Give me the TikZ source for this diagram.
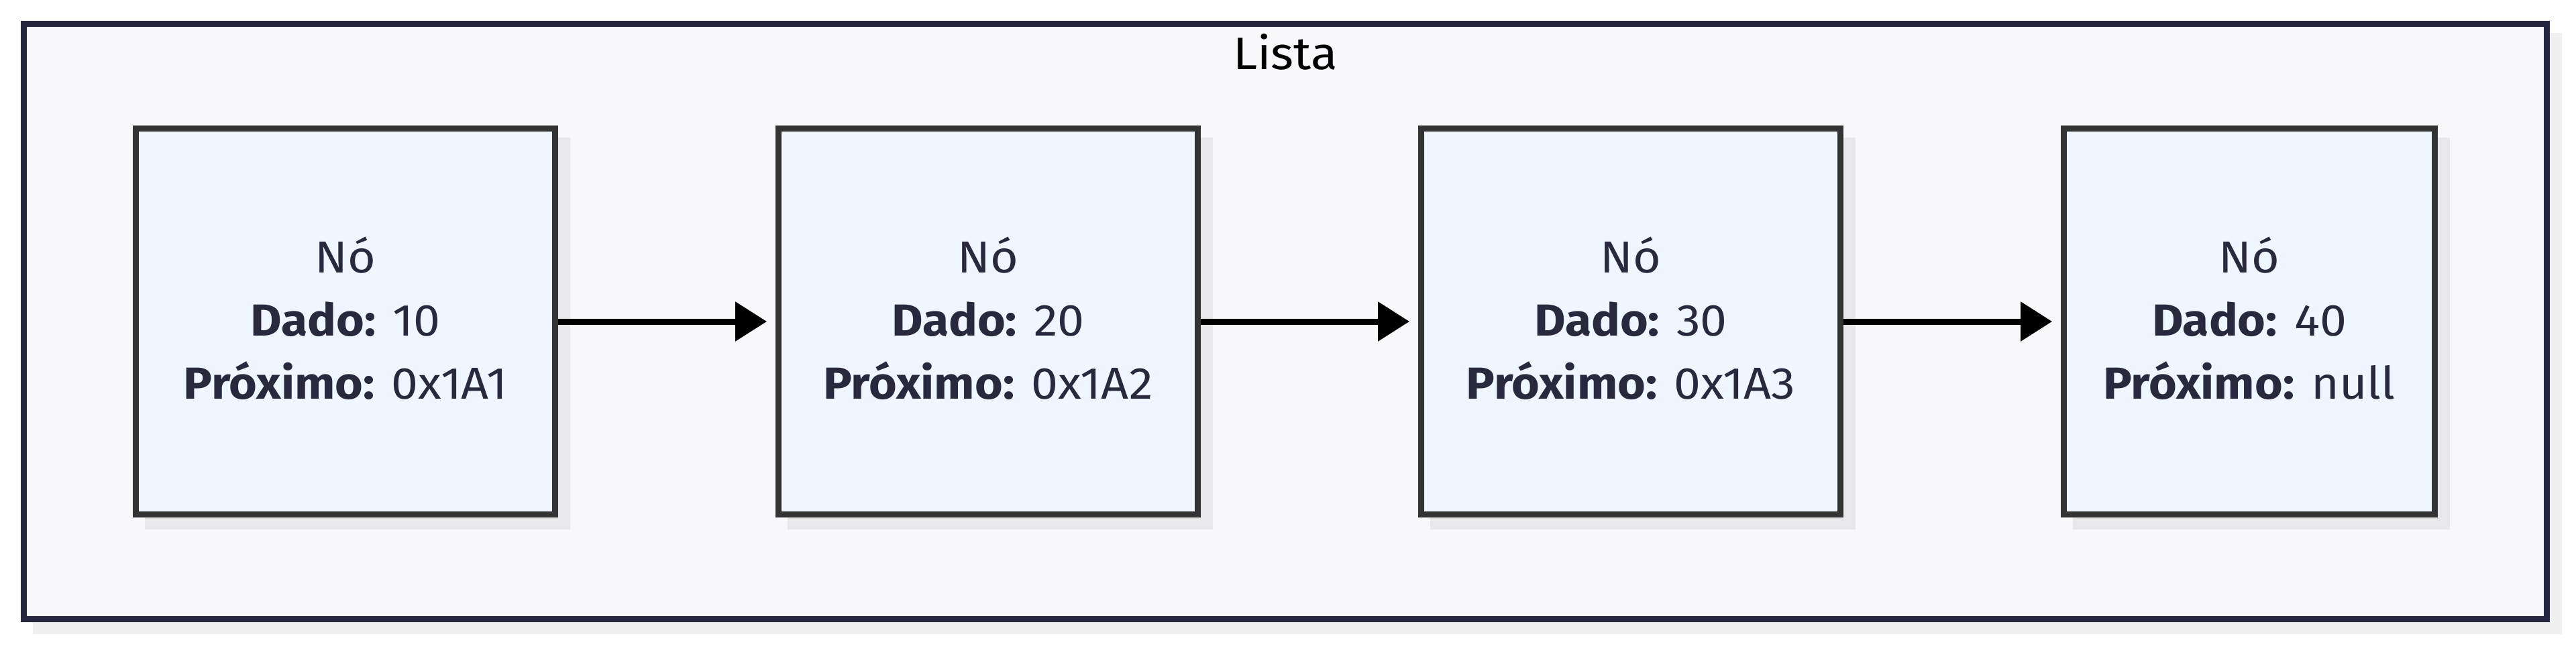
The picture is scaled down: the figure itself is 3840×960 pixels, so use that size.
\documentclass[tikz,border=0pt]{standalone}
\usepackage{fontspec}
\setmainfont[FakeStretch=1.07]{Fira Sans}
\usetikzlibrary{arrows.meta,shadows}
\definecolor{nodefill}{HTML}{EFF6FF}
\definecolor{nodestroke}{HTML}{333333}
\definecolor{nodeshadow}{HTML}{E8E8EA}
\definecolor{framefill}{HTML}{F8F8FA}
\definecolor{framestroke}{HTML}{262640}
\definecolor{frameshadow}{HTML}{F0F0F0}
\definecolor{textc}{HTML}{28283F}
\newcommand{\lowfix}{\rule[-0.1cm]{0pt}{0pt}}
\tikzset{
  listnode/.style={draw=nodestroke, fill=nodefill, line width=0.09cm,
    minimum height=5.74cm, minimum width=6.245cm, inner sep=0pt,
    align=center, text=textc, font=\fontsize{19pt}{26.7pt}\selectfont,
    general shadow={fill=nodeshadow, draw=nodeshadow, line width=0.09cm,
      shadow xshift=0.18cm, shadow yshift=-0.18cm}},
  frame/.style={draw=framestroke, fill=framefill, line width=0.09cm},
  link/.style={draw=black, line width=0.09cm,
    -{Triangle[length=0.47cm, width=0.57cm]}, shorten >=0.13cm},
  titletext/.style={text=black, font=\fontsize{19.3pt}{23pt}\selectfont, inner sep=0pt}
}
\begin{document}
\begin{tikzpicture}[x=0.01cm, y=-0.01cm]
\useasboundingbox (0,0) rectangle (3840,960);
% container
\fill[frameshadow] (49,49) rectangle (3819,945);
\draw[frame] (35.5,35.5) rectangle (3796.5,922);
\node[titletext, anchor=base] (title) at (1916,103) {Lista};
% nodes
\node[listnode] (n1) at (515,479) {Nó\\\textbf{Dado:} 10\\\textbf{Próximo:} 0x1A1\lowfix};
\node[listnode] (n2) at (1473,479) {Nó\\\textbf{Dado:} 20\\\textbf{Próximo:} 0x1A2\lowfix};
\node[listnode] (n3) at (2431,479) {Nó\\\textbf{Dado:} 30\\\textbf{Próximo:} 0x1A3\lowfix};
\node[listnode, minimum width=5.525cm] (n4) at (3353,479) {Nó\\\textbf{Dado:} 40\\\textbf{Próximo:} null\lowfix};
% links
\draw[link] (n1.east) -- (n2.west);
\draw[link] (n2.east) -- (n3.west);
\draw[link] (n3.east) -- (n4.west);
\end{tikzpicture}
\end{document}
